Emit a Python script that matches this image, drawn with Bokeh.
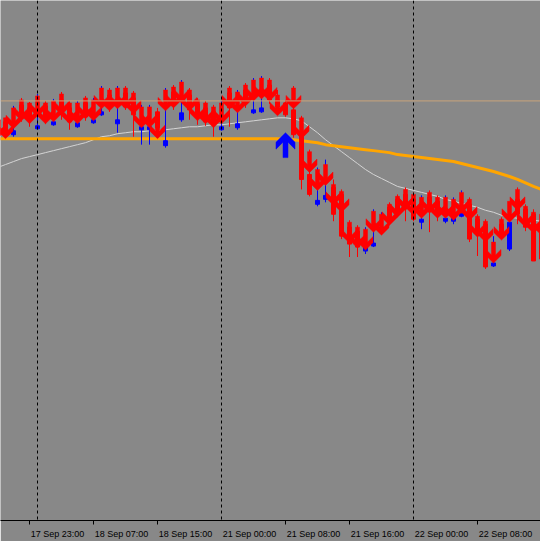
from bokeh.plotting import figure
from bokeh.models import Range1d, FixedTicker, Span
from bokeh.embed import file_html
from bokeh.resources import INLINE

# ---------------- data (H1 bars, index 0 = 17 Sep 23:00) ----------------
bar_index = list(range(-4, 65))

open_ = [1.2980, 1.2978, 1.2965, 1.2995, 1.2992, 1.2971, 1.2994, 1.2975, 1.3000, 1.2992,
         1.2973, 1.2997, 1.2977, 1.2985, 1.3005, 1.2976, 1.3007, 1.3002, 1.2970, 1.2970,
         1.2988, 1.2954, 1.3008, 1.2980, 1.3005, 1.2996, 1.2992, 1.2988, 1.2970, 1.3007,
         1.2972, 1.3010, 1.2987, 1.2988, 1.3015, 1.3000, 1.2997, 1.2990, 1.2965, 1.2925,
         1.2895, 1.2900, 1.2912, 1.2905, 1.2872, 1.2868, 1.2848, 1.2853, 1.2868, 1.2892,
         1.2900, 1.2905, 1.2900, 1.2877, 1.2902, 1.2898, 1.2878, 1.2878, 1.2883, 1.2895,
         1.2880, 1.2875, 1.2833, 1.2875, 1.2850, 1.2900, 1.2890, 1.2885, 1.2875]
close = [1.2965, 1.2968, 1.2969, 1.2982, 1.2980, 1.2974, 1.2980, 1.2978, 1.2985, 1.2978,
         1.2977, 1.2983, 1.2980, 1.2988, 1.2992, 1.2980, 1.2993, 1.2985, 1.2973, 1.2973,
         1.2972, 1.2959, 1.2995, 1.2987, 1.2990, 1.2983, 1.2978, 1.2975, 1.2973, 1.2992,
         1.2976, 1.2997, 1.2990, 1.2992, 1.3000, 1.2993, 1.2985, 1.2965, 1.2920, 1.2905,
         1.2899, 1.2904, 1.2885, 1.2863, 1.2855, 1.2852, 1.2852, 1.2856, 1.2872, 1.2878,
         1.2886, 1.2892, 1.2880, 1.2880, 1.2888, 1.2884, 1.2881, 1.2881, 1.2887, 1.2860,
         1.2865, 1.2832, 1.2836, 1.2862, 1.2877, 1.2885, 1.2872, 1.2838, 1.2840]
high = [1.2983, 1.2982, 1.2994, 1.3002, 1.2998, 1.3006, 1.2999, 1.3001, 1.3008, 1.2999,
        1.2999, 1.3004, 1.3002, 1.3014, 1.3012, 1.3014, 1.3014, 1.3009, 1.2995, 1.2995,
        1.2992, 1.3012, 1.3015, 1.3020, 1.3012, 1.3002, 1.2999, 1.2995, 1.2999, 1.3014,
        1.3010, 1.3017, 1.3022, 1.3024, 1.3022, 1.3010, 1.3000, 1.3014, 1.2984, 1.2950,
        1.2932, 1.2940, 1.2920, 1.2910, 1.2879, 1.2874, 1.2872, 1.2890, 1.2887, 1.2897,
        1.2905, 1.2912, 1.2907, 1.2904, 1.2909, 1.2904, 1.2904, 1.2902, 1.2909, 1.2902,
        1.2885, 1.2880, 1.2863, 1.2882, 1.2882, 1.2912, 1.2895, 1.2890, 1.2878]
low = [1.2960, 1.2962, 1.2963, 1.2978, 1.2973, 1.2970, 1.2976, 1.2974, 1.2980, 1.2970,
       1.2972, 1.2979, 1.2976, 1.2984, 1.2988, 1.2967, 1.2990, 1.2963, 1.2955, 1.2955,
       1.2967, 1.2952, 1.2990, 1.2978, 1.2980, 1.2975, 1.2974, 1.2963, 1.2969, 1.2973,
       1.2970, 1.2992, 1.2986, 1.2987, 1.2996, 1.2991, 1.2983, 1.2962, 1.2910, 1.2903,
       1.2893, 1.2897, 1.2878, 1.2860, 1.2842, 1.2842, 1.2845, 1.2852, 1.2867, 1.2874,
       1.2882, 1.2878, 1.2878, 1.2870, 1.2867, 1.2878, 1.2876, 1.2875, 1.2882, 1.2857,
       1.2843, 1.2830, 1.2832, 1.2860, 1.2848, 1.2875, 1.2868, 1.2860, 1.2810]

# sell-signal arrow prices (top of red arrow), None = no signal
sell_signal = [1.2982, 1.2982, 1.2992, 1.3000, 1.2997, 1.3004, 1.2997, 1.2999, 1.3006, 1.2997,
               1.2997, 1.3002, 1.3000, 1.3012, 1.3010, 1.3012, 1.3012, 1.3007, 1.2993, 1.2993,
               1.2982, 1.3010, 1.3013, 1.3018, 1.3010, 1.3000, 1.2997, 1.2993, 1.2997, 1.3012,
               1.3008, 1.3015, 1.3020, 1.3022, 1.3020, 1.3005, None, 1.3012, 1.2982, 1.2948,
               1.2930, 1.2935, 1.2915, 1.2908, 1.2877, 1.2872, 1.2870, 1.2888, 1.2885, 1.2895,
               1.2903, 1.2910, 1.2905, 1.2902, 1.2907, 1.2902, 1.2902, 1.2900, 1.2907, 1.2900,
               1.2883, 1.2878, 1.2857, 1.2880, 1.2898, 1.2910, 1.2893, 1.2887, 1.2885]
# buy-signal arrow (tip price)
buy_bar = [32]
buy_signal = [1.2967]

ma_slow = [1.2961, 1.2961, 1.2961, 1.2961, 1.2961, 1.2961, 1.2961, 1.2961, 1.2961, 1.2961,
           1.2961, 1.2961, 1.2961, 1.2961, 1.2961, 1.2961, 1.2961, 1.2961, 1.2961, 1.2961,
           1.2961, 1.2961, 1.2961, 1.2961, 1.2961, 1.2961, 1.2961, 1.2961, 1.2961, 1.2961,
           1.2961, 1.2961, 1.2961, 1.2961, 1.2961, 1.2961, 1.2960, 1.2960, 1.2959, 1.2958,
           1.2957, 1.2955, 1.2954, 1.2953, 1.2952, 1.2951, 1.2950, 1.2949, 1.2948, 1.2947,
           1.2945, 1.2944, 1.2943, 1.2942, 1.2941, 1.2940, 1.2939, 1.2938, 1.2936, 1.2934,
           1.2932, 1.2930, 1.2928, 1.29255, 1.2923, 1.2920, 1.29165, 1.2913, 1.2910]
ma_fast = [1.2932, 1.2935, 1.2938, 1.2941, 1.2943, 1.2945, 1.2947, 1.2949, 1.2951, 1.2953,
           1.2955, 1.2957, 1.2960, 1.2963, 1.2964, 1.2966, 1.2967, 1.2968, 1.2968, 1.2969,
           1.2969, 1.2970, 1.2971, 1.2972, 1.2973, 1.2973, 1.2974, 1.2975, 1.2975, 1.2976,
           1.2977, 1.2978, 1.2979, 1.2980, 1.2981, 1.2982, 1.2982, 1.2981, 1.2979, 1.2973,
           1.2967, 1.2960, 1.2954, 1.2948, 1.2942, 1.2936, 1.2930, 1.2925, 1.2921, 1.2917,
           1.2913, 1.2911, 1.2909, 1.2907, 1.2905, 1.2903, 1.2900, 1.2898, 1.2896, 1.2894,
           1.2892, 1.2889, 1.2887, 1.2884, 1.2882, 1.2881, 1.2880, 1.2879, 1.2878]

price_level = 1.2999
day_separators = [1, 24, 48]
tick_bars = [0, 8, 16, 24, 32, 40, 48, 56]
tick_labels = ["17 Sep 23:00", "18 Sep 07:00", "18 Sep 15:00", "21 Sep 00:00",
               "21 Sep 08:00", "21 Sep 16:00", "22 Sep 00:00", "22 Sep 08:00"]
midnight_bars = [24, 48]

# ---------------- styling ----------------
BG = "#888888"
RED = "#ff0000"
BLUE = "#0000ff"
PX = 0.0001          # price per screen pixel (523 px frame)
BAR_PX = 8.0         # screen pixels per bar

p = figure(width=540, height=541, output_backend="svg", toolbar_location=None,
           x_range=Range1d(-3.625, 63.875), y_range=Range1d(1.2577, 1.3100),
           y_axis_location=None, min_border_left=0, min_border_right=0,
           min_border_top=0, min_border_bottom=18)
p.background_fill_color = BG
p.border_fill_color = BG
p.outline_line_color = None
p.xgrid.visible = False
p.ygrid.visible = False

shift = 3.5
p.xaxis.ticker = FixedTicker(ticks=[t + shift for t in tick_bars],
                             minor_ticks=[t for t in tick_bars if t not in midnight_bars])
p.xaxis.major_label_overrides = {float(t + shift): lab for t, lab in zip(tick_bars, tick_labels)}
p.xaxis.major_tick_out = 0
p.xaxis.major_tick_in = 0
p.xaxis.minor_tick_out = 4
p.xaxis.minor_tick_in = 0
p.xaxis.minor_tick_line_color = "black"
p.xaxis.axis_line_color = "black"
p.xaxis.major_label_standoff = 4
p.xaxis.major_label_text_font = "Liberation Sans"
p.xaxis.major_label_text_font_size = "9px"
p.xaxis.major_label_text_color = "black"

# horizontal level and day separators
p.add_layout(Span(location=price_level, dimension="width", line_color="#c9a47c", line_width=1))
for d in day_separators:
    p.add_layout(Span(location=d, dimension="height", line_color="black",
                      line_width=1, line_dash="3 3"))

# moving averages
p.line(bar_index, ma_fast, line_color="#d4d4d4", line_width=1)
p.line(bar_index, ma_slow, line_color="#ffa500", line_width=3)

# candles
colors = [BLUE if c > o else RED for o, c in zip(open_, close)]
p.segment(bar_index, high, bar_index, low, line_color=colors, line_width=1)
tops = [max(o, c) for o, c in zip(open_, close)]
bots = [min(o, c) for o, c in zip(open_, close)]
p.vbar(x=bar_index, top=tops, bottom=bots, width=0.5, fill_color=colors, line_color=colors)

# arrow outline in pixels, origin at the arrow's top centre, y measured downward
DOWN_ARROW = [(-2, 0), (2, 0), (2, 13), (7.5, 7.5), (7.5, 13.5), (0, 21),
              (-7.5, 13.5), (-7.5, 7.5), (-2, 13)]
# up arrow, origin at the tip, y measured downward
UP_ARROW = [(0, 0), (9.5, 9.5), (9.5, 16.5), (2.5, 9.5), (2.5, 25), (-2.5, 25),
            (-2.5, 9.5), (-9.5, 16.5), (-9.5, 9.5)]

sx, sy = [], []
for k, s in zip(bar_index, sell_signal):
    if s is None:
        continue
    sx.append([k + dx / BAR_PX for dx, dy in DOWN_ARROW])
    sy.append([s - dy * PX for dx, dy in DOWN_ARROW])
p.patches(sx, sy, fill_color=RED, line_color=RED, line_width=0.5)

bx, by = [], []
for k, b in zip(buy_bar, buy_signal):
    bx.append([k + dx / BAR_PX for dx, dy in UP_ARROW])
    by.append([b - dy * PX for dx, dy in UP_ARROW])
p.patches(bx, by, fill_color=BLUE, line_color=BLUE, line_width=0.5)

open("out.html", "w").write(file_html(p, INLINE))
